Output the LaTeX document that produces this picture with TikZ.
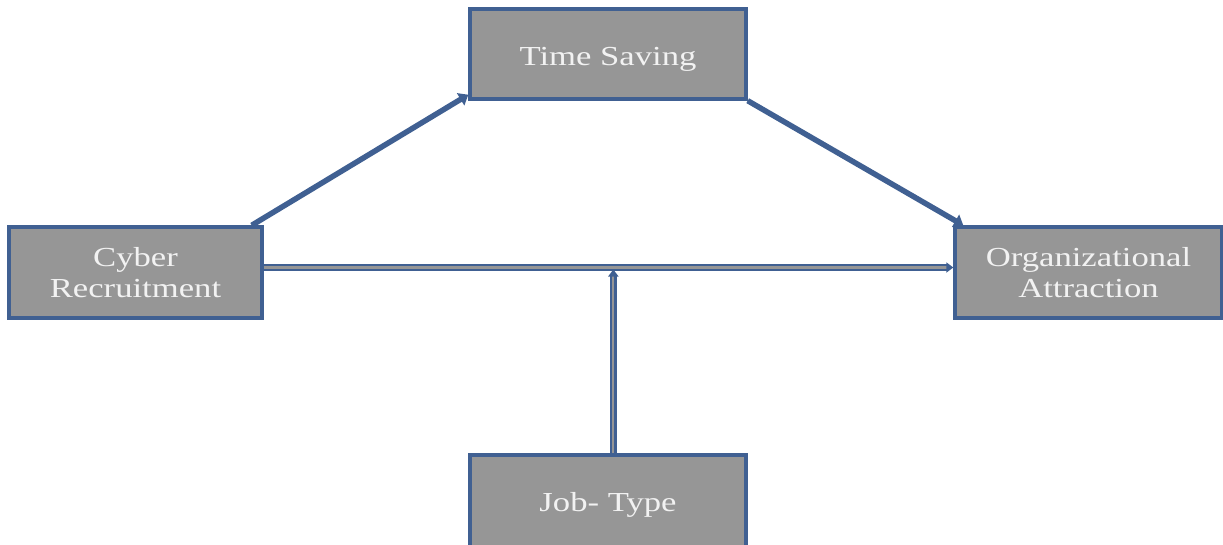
\documentclass[tikz,border=0pt]{standalone}
\usepackage{fontspec}
\newfontfamily\boxfont[FakeStretch=1.26]{Liberation Serif}
\usetikzlibrary{arrows.meta}
\definecolor{edgeblue}{RGB}{64,96,146}
\definecolor{boxgray}{RGB}{150,150,150}
\definecolor{boxtext}{RGB}{242,242,242}
\begin{document}
\begin{tikzpicture}[x=1pt,y=-1pt,
  block/.style={draw=edgeblue,fill=boxgray,line width=3.4pt,text=boxtext,
    font=\boxfont\fontsize{27.5}{31}\selectfont,align=center,inner sep=0pt},
  solidlink/.style={draw=edgeblue,line width=5.5pt,
    -{Triangle[length=9pt,width=14pt]}},
  doublelink/.style={draw=edgeblue,line width=2.4pt,double=boxgray,double distance=2.2pt,
    -{Triangle[length=7pt,width=10pt]}}]
\useasboundingbox (0,0) rectangle (1223,544);
\node[block,minimum width=276pt,minimum height=90pt,text height=26pt,text depth=3pt] (ts) at (608,54) {Time Saving};
\node[block,minimum width=253pt,minimum height=91pt] (cr) at (135.5,272.5) {Cyber\\Recruitment};
\node[block,minimum width=267pt,minimum height=91pt] (oa) at (1088.5,272.5) {Organizational\\Attraction};
\node[block,minimum width=276pt,minimum height=100pt] (jt) at (608,505) {Job- Type};
% direct effect and the moderator arrow into it
\draw[doublelink] ([yshift=5pt]cr.east) -- ([yshift=5pt]oa.west) coordinate[pos=0.507] (mid);
\draw[doublelink] (jt.north -| mid) -- ([yshift=-2pt]mid);
% mediated path
\draw[solidlink] ([xshift=-12pt]cr.north east) -- ([yshift=6pt]ts.south west);
\draw[solidlink] (ts.south east) -- ([xshift=10pt]oa.north west);
\end{tikzpicture}
\end{document}
